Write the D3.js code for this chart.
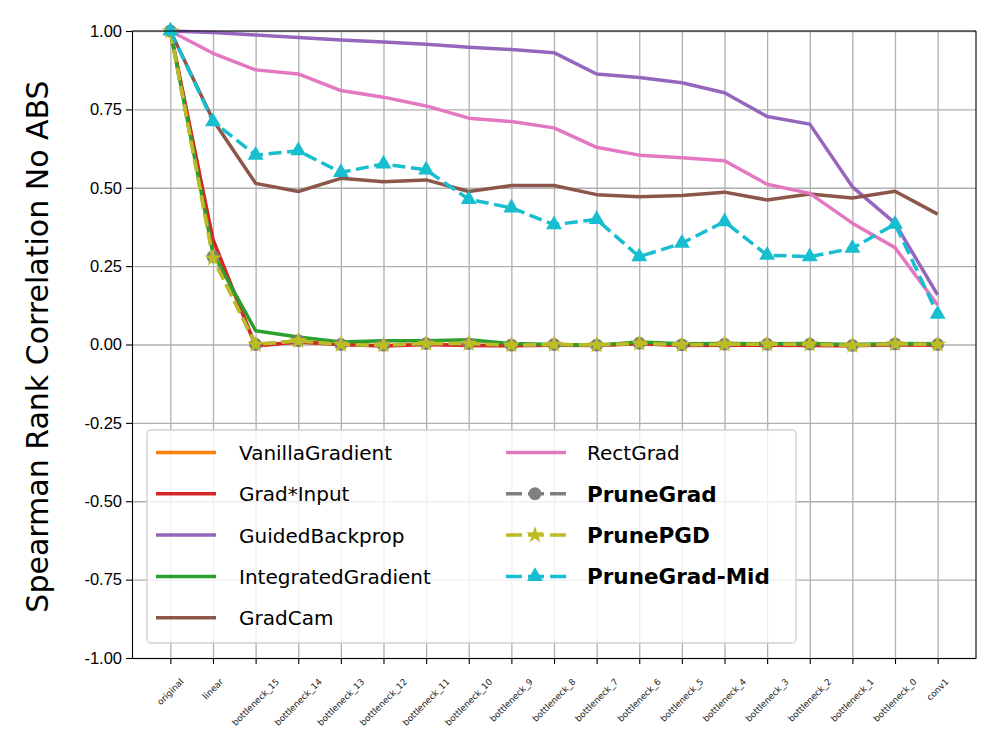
<!DOCTYPE html>
<html>
<head>
    <style>
        body {
            margin: 0;
            background: white;
            font-family: "DejaVu Sans", sans-serif;
        }
        .grid line { stroke: #b0b0b0; stroke-width: 1.3; }
        .grid .domain { display: none; }
        .axis .domain, .axis .tick line { stroke: #000; stroke-width: 1.1; }
        .legend-text { font-size: 20px; fill: #000; }
        .layer-label { font-size: 8.8px; fill: #222; }
    </style>
</head>
<body>
    <div id="chart"></div>
    <script src="https://cdnjs.cloudflare.com/ajax/libs/d3/7.8.5/d3.min.js"></script>
    <script>
        // layers along the x axis
        const layers = [
            "original", "linear", "bottleneck_15", "bottleneck_14", "bottleneck_13",
            "bottleneck_12", "bottleneck_11", "bottleneck_10", "bottleneck_9", "bottleneck_8",
            "bottleneck_7", "bottleneck_6", "bottleneck_5", "bottleneck_4", "bottleneck_3",
            "bottleneck_2", "bottleneck_1", "bottleneck_0", "conv1"
        ];

        const yTicks = [-1, -0.75, -0.5, -0.25, 0, 0.25, 0.5, 0.75, 1];

        // values
        const vanillaGradient = [1.0, 0.33, -0.004, 0.009, 0.0, -0.004, 0.001, -0.002, -0.003, -0.001, -0.002, 0.003, -0.002, -0.001, -0.001, -0.002, -0.003, 0.0, -0.001];
        const gradInput = [1.0, 0.335, -0.005, 0.008, 0.0, -0.005, 0.0, -0.003, -0.004, -0.002, -0.003, 0.002, -0.003, -0.002, -0.002, -0.003, -0.004, -0.001, -0.002];
        const guidedBackprop = [1.0, 0.995, 0.987, 0.979, 0.971, 0.965, 0.958, 0.948, 0.941, 0.931, 0.863, 0.852, 0.835, 0.803, 0.727, 0.703, 0.503, 0.387, 0.158];
        const integratedGradient = [1.0, 0.29, 0.044, 0.024, 0.008, 0.012, 0.012, 0.015, 0.003, 0.0, -0.002, 0.008, 0.002, 0.003, 0.002, 0.003, 0.0, 0.003, 0.002];
        const gradCam = [1.0, 0.716, 0.514, 0.488, 0.53, 0.519, 0.525, 0.488, 0.507, 0.507, 0.478, 0.471, 0.475, 0.486, 0.461, 0.48, 0.467, 0.489, 0.416];
        const rectGrad = [1.0, 0.929, 0.876, 0.863, 0.81, 0.789, 0.761, 0.722, 0.711, 0.691, 0.629, 0.604, 0.596, 0.586, 0.511, 0.482, 0.387, 0.309, 0.126];
        const pruneGrad = [1.0, 0.28, 0.0, 0.012, 0.0, -0.002, 0.003, 0.003, -0.002, 0.0, -0.002, 0.004, -0.001, 0.001, 0.001, 0.001, -0.003, 0.002, 0.0];
        const prunePGD = [1.0, 0.275, 0.0, 0.012, 0.0, -0.002, 0.003, 0.003, -0.002, 0.0, -0.002, 0.004, -0.001, 0.001, 0.001, 0.001, -0.003, 0.002, 0.0];
        const pruneGradMid = [1.0, 0.711, 0.604, 0.618, 0.549, 0.576, 0.557, 0.463, 0.436, 0.382, 0.399, 0.28, 0.323, 0.392, 0.285, 0.28, 0.307, 0.384, 0.097];

        const series = [
            { name: "VanillaGradient", values: vanillaGradient, color: "#ff7f0e" },
            { name: "Grad*Input", values: gradInput, color: "#d62728" },
            { name: "GuidedBackprop", values: guidedBackprop, color: "#9467bd" },
            { name: "IntegratedGradient", values: integratedGradient, color: "#2ca02c" },
            { name: "GradCam", values: gradCam, color: "#8c564b" },
            { name: "RectGrad", values: rectGrad, color: "#e377c2" },
            { name: "PruneGrad", values: pruneGrad, color: "#7f7f7f", dashed: true, marker: d3.symbolCircle, size: 130, bold: true },
            { name: "PrunePGD", values: prunePGD, color: "#bcbd22", dashed: true, marker: d3.symbolStar, size: 95, bold: true },
            { name: "PruneGrad-Mid", values: pruneGradMid, color: "#17becf", dashed: true, marker: d3.symbolTriangle, size: 110, bold: true }
        ];

        const margin = { top: 31, right: 24, bottom: 92, left: 132 };
        const width = 1000 - margin.left - margin.right;
        const height = 750 - margin.top - margin.bottom;

        const svg = d3.select("#chart")
            .append("svg")
            .attr("width", 1000)
            .attr("height", 750)
            .append("g")
            .attr("transform", `translate(${margin.left},${margin.top})`);

        const n = layers.length;
        const x = d3.scaleLinear()
            .domain([-0.05 * (n - 1), (n - 1) * 1.05])
            .range([0, width]);

        const y = d3.scaleLinear()
            .domain([-1, 1])
            .range([height, 0]);

        // grid
        svg.append("g")
            .attr("class", "grid")
            .attr("transform", `translate(0,${height})`)
            .call(d3.axisBottom(x).tickValues(d3.range(n)).tickSize(-height).tickFormat(""));

        svg.append("g")
            .attr("class", "grid")
            .call(d3.axisLeft(y).tickValues(yTicks).tickSize(-width).tickFormat(""));

        // lines
        const line = d3.line()
            .x((d, i) => x(i))
            .y(d => y(d));

        series.forEach(s => {
            svg.append("path")
                .datum(s.values)
                .attr("fill", "none")
                .attr("stroke", s.color)
                .attr("stroke-width", 3.5)
                .attr("stroke-linejoin", "round")
                .attr("stroke-dasharray", s.dashed ? "13,5.6" : null)
                .attr("d", line);

            if (s.marker) {
                svg.selectAll(null)
                    .data(s.values)
                    .enter()
                    .append("path")
                    .attr("transform", (d, i) => `translate(${x(i)},${y(d)})`)
                    .attr("d", d3.symbol().type(s.marker).size(s.size))
                    .attr("fill", s.color);
            }
        });

        // axes (frame)
        svg.append("g")
            .attr("class", "axis")
            .attr("transform", `translate(0,${height})`)
            .call(d3.axisBottom(x).tickValues(d3.range(n)).tickSize(6).tickSizeOuter(0).tickFormat(""));

        // rotated layer names, centred under each tick like matplotlib's rotation=45
        const labels = svg.append("g")
            .attr("transform", `translate(0,${height + 19})`);

        labels.selectAll("text")
            .data(layers)
            .enter()
            .append("text")
            .attr("class", "layer-label")
            .attr("text-anchor", "middle")
            .attr("dominant-baseline", "central")
            .text(d => d)
            .attr("transform", function (d, i) {
                const len = this.getComputedTextLength();
                const cy = (len + 9) * Math.SQRT1_2 / 2;
                return `translate(${x(i)},${cy}) rotate(-45)`;
            });

        const yAxis = svg.append("g")
            .attr("class", "axis")
            .call(d3.axisLeft(y).tickValues(yTicks).tickSize(6).tickSizeOuter(0).tickFormat(d => d.toFixed(2)));

        yAxis.selectAll("text")
            .style("font-size", "16.5px")
            .attr("x", -10);

        svg.append("line")
            .attr("x1", width).attr("x2", width)
            .attr("y1", 0).attr("y2", height)
            .attr("stroke", "#000").attr("stroke-width", 1.1);
        svg.append("line")
            .attr("x1", 0).attr("x2", width)
            .attr("y1", 0).attr("y2", 0)
            .attr("stroke", "#000").attr("stroke-width", 1.1);

        // y label
        svg.append("text")
            .attr("transform", `translate(${37 - margin.left},${height / 2 + 2}) rotate(-90)`)
            .attr("text-anchor", "middle")
            .attr("dominant-baseline", "central")
            .style("font-size", "30px")
            .text("Spearman Rank Correlation No ABS");

        // legend
        const legend = svg.append("g")
            .attr("transform", `translate(${147 - margin.left},${430 - margin.top})`);

        legend.append("rect")
            .attr("width", 649)
            .attr("height", 213)
            .attr("rx", 4)
            .attr("fill", "white")
            .attr("fill-opacity", 0.8)
            .attr("stroke", "#d0d0d0")
            .attr("stroke-width", 1.3);

        const rowY = i => 22.5 + i * 41.3;

        series.forEach((s, k) => {
            const col = k < 5 ? 0 : 1;
            const row = k < 5 ? k : k - 5;
            const x0 = col === 0 ? 9 : 359;
            const tx = col === 0 ? 92 : 440;
            const g = legend.append("g")
                .attr("transform", `translate(0,${rowY(row)})`);

            g.append("line")
                .attr("x1", x0).attr("x2", x0 + 60)
                .attr("stroke", s.color)
                .attr("stroke-width", 3.5)
                .attr("stroke-dasharray", s.dashed ? "16,6" : null);

            if (s.marker) {
                g.append("path")
                    .attr("transform", `translate(${x0 + 29},0)`)
                    .attr("d", d3.symbol().type(s.marker).size(s.size))
                    .attr("fill", s.color);
            }

            g.append("text")
                .attr("class", "legend-text")
                .attr("x", tx)
                .attr("y", s.bold ? 8 : 7.5)
                .style("font-weight", s.bold ? "bold" : "normal")
                .style("font-size", s.bold ? "21.5px" : null)
                .text(s.name);
        });
    </script>
</body>
</html>
